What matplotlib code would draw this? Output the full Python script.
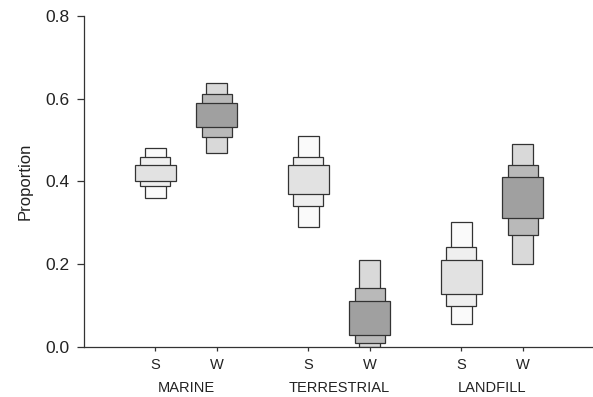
import matplotlib.pyplot as plt
import numpy as np

plt.rcParams["font.family"] = ["Liberation Sans", "DejaVu Sans"]

groups = ["MARINE", "TERRESTRIAL", "LANDFILL"]
seasons = ["S", "W"]

# intervals per group: [S, W]; outer (narrow box), middle, inner (wide box)
outer_lo = [[0.360, 0.469], [0.291, 0.001], [0.055, 0.200]]
outer_hi = [[0.480, 0.639], [0.510, 0.210], [0.301, 0.490]]
mid_lo = [[0.389, 0.508], [0.341, 0.010], [0.100, 0.271]]
mid_hi = [[0.458, 0.611], [0.460, 0.142], [0.241, 0.440]]
inner_lo = [[0.400, 0.531], [0.369, 0.029], [0.128, 0.311]]
inner_hi = [[0.440, 0.589], [0.440, 0.112], [0.210, 0.410]]

colors = {
    "S": ["#fafafa", "#efefef", "#e2e2e2"],
    "W": ["#d9d9d9", "#b9b9b9", "#a0a0a0"],
}
widths = [0.135, 0.196, 0.268]
edge = "#333333"

fig = plt.figure(figsize=(5.93, 3.97), dpi=100)
ax = fig.add_axes([0.1417, 0.126, 0.8583, 0.834])

xpos, xlab = [], []
for g in range(len(groups)):
    for s, season in enumerate(seasons):
        x = g + 1 + (-0.2 if s == 0 else 0.2)
        xpos.append(x)
        xlab.append(season)
        levels = [(outer_lo, outer_hi), (mid_lo, mid_hi), (inner_lo, inner_hi)]
        for k, (lo, hi) in enumerate(levels):
            ax.bar(x, hi[g][s] - lo[g][s], bottom=lo[g][s], width=widths[k],
                   color=colors[season][k], edgecolor=edge, linewidth=0.9, zorder=2 + k)

ax.set_xlim(0.333, 3.66)
ax.set_ylim(0, 0.8)
ax.set_yticks(np.arange(0, 0.81, 0.2))
ax.set_yticklabels([f"{v:.1f}" for v in np.arange(0, 0.81, 0.2)], fontsize=12.5, color="#222222")
ax.set_xticks(xpos)
ax.set_xticklabels(xlab, fontsize=10.5, color="#222222")
ax.tick_params(axis="y", length=5, width=0.9, color="#333333", pad=5.5)
ax.tick_params(axis="x", length=3, width=0.9, color="#333333", pad=5)
ax.set_ylabel("Proportion", fontsize=12, color="#222222", labelpad=9)

for g, name in enumerate(groups):
    ax.text(g + 1, -0.124, name, transform=ax.get_xaxis_transform(),
            ha="center", va="center", fontsize=10.5, color="#222222")

for side in ["top", "right"]:
    ax.spines[side].set_visible(False)
for side in ["left", "bottom"]:
    ax.spines[side].set_color("#333333")
    ax.spines[side].set_linewidth(0.9)

fig.savefig("out.png", dpi=100)
